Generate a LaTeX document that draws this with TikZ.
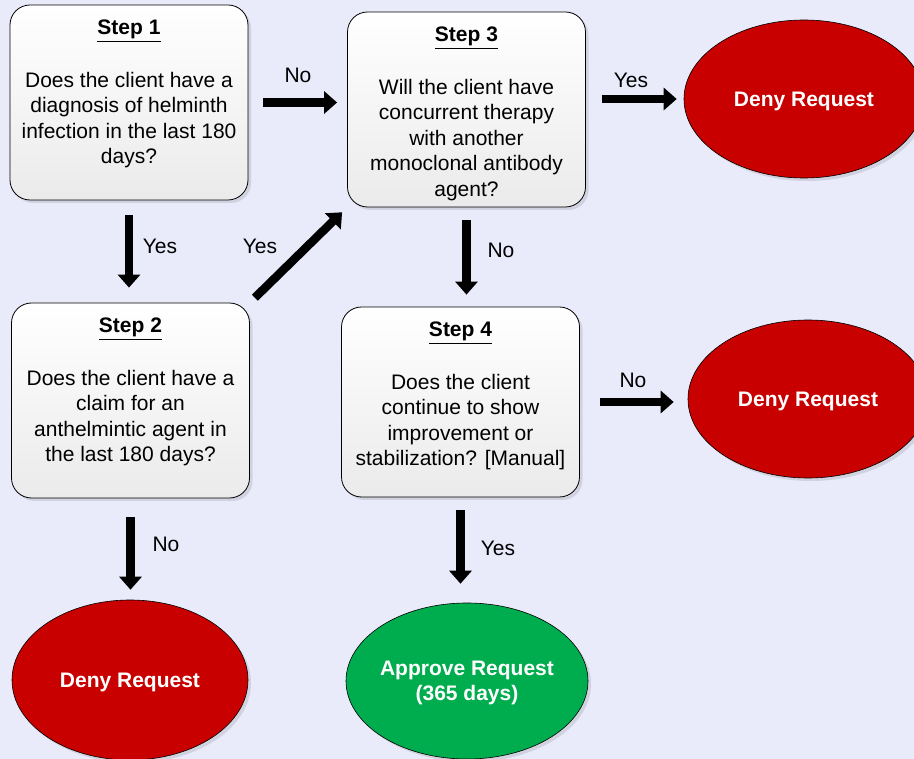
\documentclass[tikz,border=0pt]{standalone}
\usepackage{fontspec}
\setmainfont{Liberation Sans}
\usetikzlibrary{arrows.meta,shapes.geometric,shadows}
\definecolor{bg}{RGB}{233,234,250}
\definecolor{denyred}{RGB}{200,0,0}
\definecolor{okgreen}{RGB}{0,173,78}
\begin{document}
\begin{tikzpicture}[x=1pt,y=-1pt,
  stepbox/.style={draw=black, line width=0.8pt, rounded corners=20pt,
    minimum width=238pt, minimum height=195pt, inner sep=0pt,
    top color=white, bottom color=gray!16,
    drop shadow={opacity=0.22, shadow xshift=3pt, shadow yshift=-3pt}},
  steptitle/.style={font=\fontsize{21}{25.5}\selectfont\bfseries, anchor=base, inner sep=0pt},
  stepbody/.style={font=\fontsize{21}{25.5}\selectfont, align=center, anchor=north, inner sep=0pt},
  endnode/.style={ellipse, draw=black, line width=0.6pt, inner sep=0pt,
    drop shadow={opacity=0.22, shadow xshift=3pt, shadow yshift=-3pt}},
  endtext/.style={text=white, font=\fontsize{21}{25}\selectfont\bfseries, align=center, inner sep=0pt},
  deny/.style={endnode, fill=denyred},
  approve/.style={endnode, fill=okgreen},
  flow/.style={line width=8.5pt, -{Triangle[length=13pt,width=22pt]}},
  lbl/.style={font=\fontsize{21}{25.5}\selectfont, inner sep=0pt}
]
\fill[bg] (0,0) rectangle (914,759);
\useasboundingbox (0,0) rectangle (914,759);
\clip (0,0) rectangle (914,759);

% step boxes
\node[stepbox] (s1) at (129,102.5) {};
\node[steptitle] (s1t) at (129,35) {\underline{Step 1}};
\node[stepbody] (s1b) at (129,72) {Does the client have a\\diagnosis of helminth\\infection in the last 180\\days?};

\node[stepbox] (s3) at (466.5,109.5) {};
\node[steptitle] (s3t) at (466.5,42) {\underline{Step 3}};
\node[stepbody] (s3b) at (466.5,79) {Will the client have\\concurrent therapy\\with another\\monoclonal antibody\\agent?};

\node[stepbox] (s2) at (130.5,400.5) {};
\node[steptitle] (s2t) at (130.5,333) {\underline{Step 2}};
\node[stepbody] (s2b) at (130.5,370) {Does the client have a\\claim for an\\anthelmintic agent in\\the last 180 days?};

\node[stepbox, minimum height=190pt] (s4) at (460.5,402) {};
\node[steptitle] (s4t) at (460.5,337) {\underline{Step 4}};
\node[stepbody] (s4b) at (460.5,374) {Does the client\\continue to show\\improvement or\\stabilization? [Manual]};

% end nodes
\node[deny, minimum width=240pt, minimum height=158pt] (d1) at (804,99) {};
\node[endtext] (d1t) at ([yshift=-2.5pt]d1.center) {Deny Request};
\node[deny, minimum width=240pt, minimum height=158pt] (d2) at (808,399) {};
\node[endtext] (d2t) at ([yshift=-2.5pt]d2.center) {Deny Request};
\node[deny, minimum width=236pt, minimum height=160pt] (d3) at (130,680) {};
\node[endtext] (d3t) at ([yshift=-2pt]d3.center) {Deny Request};
\node[approve, minimum width=242pt, minimum height=156pt] (ap) at (467,681) {};
\node[endtext] (apt) at ([yshift=-2pt]ap.center) {Approve Request\\(365 days)};

% connectors
\draw[flow, shorten <=15pt, shorten >=10pt] (s1.east) -- (s1.east -| s3.west);
\draw[flow, shorten <=16pt, shorten >=7pt] (d1.west -| s3.east) -- (d1.west);
\draw[flow, shorten <=15pt, shorten >=15pt] (s1.south) -- (s1.south |- s2.north);
\draw[flow, shorten <=7pt, shorten >=7pt] (s2.north east) -- (s3.south west);
\draw[flow, shorten <=13pt, shorten >=12pt] (s3.south) -- (s3.south |- s4.north);
\draw[flow, shorten <=20pt, shorten >=14pt] (s4.east) -- (s4.east -| d2.west);
\draw[flow, shorten <=19pt, shorten >=10pt] (s2.south) -- (s2.south |- d3.north);
\draw[flow, shorten <=13pt, shorten >=19pt] (s4.south) -- (s4.south |- ap.north);

% labels
\node[lbl] (l1) at (298,75) {No};
\node[lbl] (l2) at (631,80) {Yes};
\node[lbl] (l3) at (160,246) {Yes};
\node[lbl] (l4) at (260,246) {Yes};
\node[lbl] (l5) at (501,250) {No};
\node[lbl] (l6) at (633,380) {No};
\node[lbl] (l7) at (166,544) {No};
\node[lbl] (l8) at (498,548) {Yes};
\end{tikzpicture}
\end{document}
